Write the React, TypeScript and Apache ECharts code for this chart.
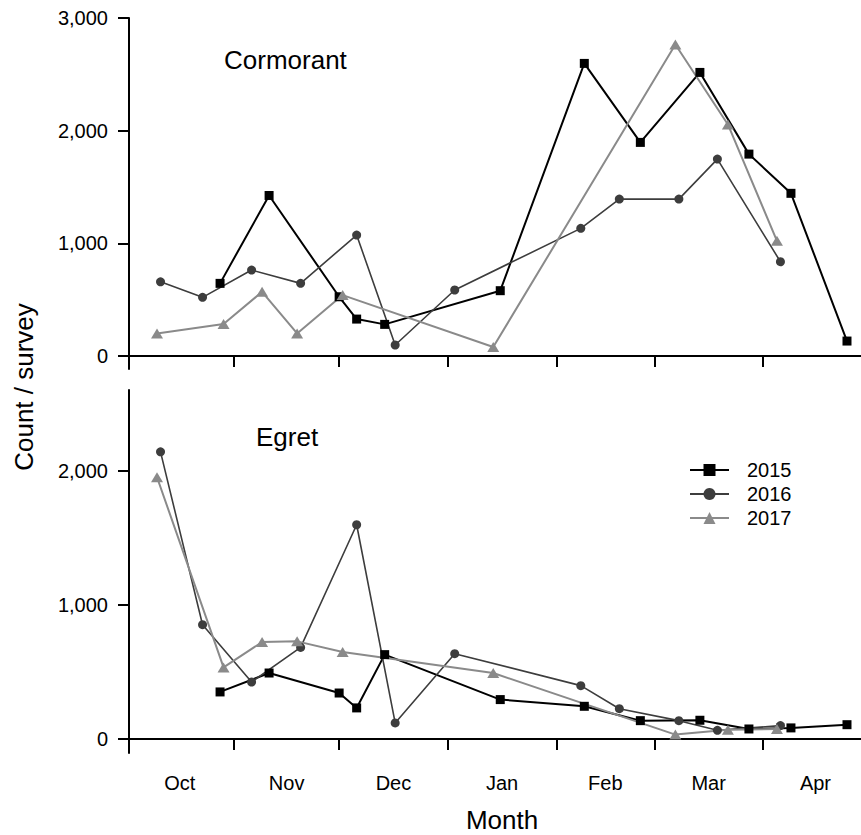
import React, { useEffect, useRef } from "react";
import * as echarts from "echarts";

// Months shown on the x axis, and the day (counted from 1 October) each one starts on
const monthLabels = ["Oct", "Nov", "Dec", "Jan", "Feb", "Mar", "Apr"];
const monthStartDays = [0, 31, 61, 92, 123, 151, 182, 212];

// Survey dates (days since 1 October) per season
const days2015 = [27, 41, 61, 66, 74, 107, 131, 147, 164, 178, 190, 206];
const days2016 = [10, 22, 36, 50, 66, 77, 94, 130, 141, 158, 169, 187];
const days2017 = [9, 28, 39, 49, 62, 105, 157, 172, 186];

// Cormorant counts / survey
const cormorant2015 = [645, 1425, 526, 328, 281, 580, 2597, 1896, 2517, 1792, 1444, 133];
const cormorant2016 = [659, 521, 763, 645, 1074, 98, 586, 1133, 1393, 1393, 1748, 837];
const cormorant2017 = [200, 284, 570, 201, 541, 80, 2765, 2055, 1023];

// Egret counts / survey
const egret2015 = [350, 491, 342, 231, 628, 293, 243, 136, 139, 74, 82, 106];
const egret2016 = [2139, 851, 424, 682, 1596, 119, 635, 397, 225, 136, 64, 99];
const egret2017 = [1950, 533, 722, 727, 648, 491, 32, 69, 74];

const topYTicks = [0, 1000, 2000, 3000];
const bottomYTicks = [0, 1000, 2000];
const seasons = ["2015", "2016", "2017"];

const FONT = "'Liberation Sans', Arial, Helvetica, sans-serif";

const zip = (xs: number[], ys: number[]) => xs.map((x, i) => [x, ys[i]]);

export default function App() {
  const ref = useRef<HTMLDivElement>(null);

  useEffect(() => {
    if (!ref.current) return;
    const chart = echarts.init(ref.current, undefined, { renderer: "svg" });

    const tickDays = monthStartDays.slice(1, 7);
    const labelDays = monthLabels.map(
      (_, i) => (monthStartDays[i] + monthStartDays[i + 1]) / 2
    );
    const monthFormatter = (v: number) => {
      const i = labelDays.findIndex((d) => Math.abs(d - v) < 0.01);
      return i >= 0 ? monthLabels[i] : "";
    };
    const numFmt = (v: number) =>
      v.toString().replace(/\B(?=(\d{3})+(?!\d))/g, ",");

    const axisLine = { show: true, lineStyle: { color: "#000", width: 2 } };
    const xAxisBase = {
      type: "value" as const,
      min: 1,
      max: 210,
      axisLine,
      splitLine: { show: false },
      axisTick: {
        show: true,
        length: 11,
        inside: false,
        customValues: tickDays,
        lineStyle: { color: "#000", width: 2 },
      },
    };
    const yAxisBase = (ticks: number[]) => ({
      type: "value" as const,
      axisLine,
      splitLine: { show: false },
      axisTick: {
        show: true,
        length: 11,
        customValues: ticks,
        lineStyle: { color: "#000", width: 2 },
      },
      axisLabel: {
        customValues: ticks,
        formatter: numFmt,
        margin: 21,
        color: "#000",
        fontSize: 20,
        fontFamily: FONT,
      },
    });

    const styles = [
      { color: "#000000", symbol: "rect", size: 9, width: 2 },
      { color: "#3d3d3d", symbol: "circle", size: 9, width: 1.6 },
      { color: "#8a8a8a", symbol: "triangle", size: [12, 10], width: 2 },
    ];
    const mk = (name: string, idx: number, axis: number, data: number[][]) => {
      const s = styles[idx];
      return {
        name,
        type: "line" as const,
        xAxisIndex: axis,
        yAxisIndex: axis,
        data,
        symbol: s.symbol,
        symbolSize: s.size,
        showAllSymbol: true,
        color: s.color,
        lineStyle: { color: s.color, width: s.width },
        itemStyle: { color: s.color },
        emphasis: { disabled: true },
      };
    };

    chart.setOption({
      animation: false,
      textStyle: { fontFamily: FONT },
      grid: [
        { left: 129, right: 0, top: 18, height: 351 },
        { left: 129, right: 0, top: 390, height: 363 },
      ],
      xAxis: [
        { ...xAxisBase, gridIndex: 0, axisLabel: { show: false } },
        {
          ...xAxisBase,
          gridIndex: 1,
          axisLabel: {
            show: true,
            customValues: labelDays,
            formatter: monthFormatter,
            margin: 20,
            color: "#000",
            fontSize: 20,
            fontFamily: FONT,
          },
        },
      ],
      yAxis: [
        { ...yAxisBase(topYTicks), gridIndex: 0, min: -115, max: 3000 },
        { ...yAxisBase(bottomYTicks), gridIndex: 1, min: -105, max: 2600 },
      ],
      legend: {
        data: seasons,
        orient: "vertical",
        left: 689,
        top: 460,
        itemWidth: 39,
        itemHeight: 15,
        itemGap: 4,
        padding: 0,
        lineStyle: { width: 2 },
        textStyle: {
          fontSize: 20,
          color: "#000",
          fontFamily: FONT,
          padding: [0, 0, 0, 13],
        },
      },
      graphic: [
        {
          type: "text",
          x: 224,
          y: 60,
          style: {
            text: "Cormorant",
            fontSize: 26,
            fontFamily: FONT,
            fill: "#000",
            textVerticalAlign: "middle",
          },
        },
        {
          type: "text",
          x: 256,
          y: 437,
          style: {
            text: "Egret",
            fontSize: 26,
            fontFamily: FONT,
            fill: "#000",
            textVerticalAlign: "middle",
          },
        },
        {
          type: "text",
          x: 24,
          y: 387,
          rotation: Math.PI / 2,
          style: {
            text: "Count / survey",
            fontSize: 26,
            fontFamily: FONT,
            fill: "#000",
            textAlign: "center",
            textVerticalAlign: "middle",
          },
        },
        {
          type: "text",
          x: 502,
          y: 820,
          style: {
            text: "Month",
            fontSize: 26,
            fontFamily: FONT,
            fill: "#000",
            textAlign: "center",
            textVerticalAlign: "middle",
          },
        },
      ],
      series: [
        mk("2015", 0, 0, zip(days2015, cormorant2015)),
        mk("2016", 1, 0, zip(days2016, cormorant2016)),
        mk("2017", 2, 0, zip(days2017, cormorant2017)),
        mk("2015", 0, 1, zip(days2015, egret2015)),
        mk("2016", 1, 1, zip(days2016, egret2016)),
        mk("2017", 2, 1, zip(days2017, egret2017)),
      ],
    });

    return () => chart.dispose();
  }, []);

  return (
    <div
      ref={ref}
      style={{
        position: "fixed",
        left: 0,
        top: 0,
        width: 861,
        height: 835,
        background: "#fff",
      }}
    />
  );
}
